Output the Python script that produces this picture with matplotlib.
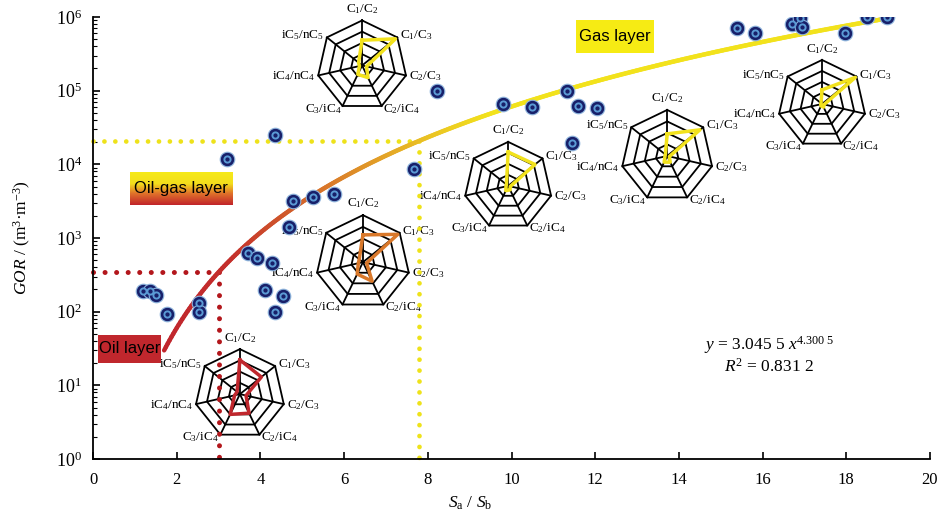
import numpy as np
import matplotlib
matplotlib.use('Agg')
import matplotlib.pyplot as plt
from matplotlib.collections import LineCollection
from matplotlib.colors import LinearSegmentedColormap
from matplotlib.patches import Rectangle
from matplotlib.ticker import LogLocator, NullFormatter

plt.rcParams['font.family'] = ['Liberation Serif', 'DejaVu Serif']
plt.rcParams['mathtext.fontset'] = 'custom'
plt.rcParams['mathtext.rm'] = 'Liberation Serif'
plt.rcParams['mathtext.it'] = 'Liberation Serif:italic'
plt.rcParams['mathtext.bf'] = 'Liberation Serif:bold'

# samples: Sa/Sb ratio and gas-oil ratio
sa_sb = [1.20, 1.36, 1.50, 1.77, 2.54, 2.54, 3.20, 3.71, 3.92, 4.11, 4.28,
         4.35, 4.35, 4.55, 4.69, 4.79, 5.26, 5.77, 7.67, 8.22, 9.80, 10.50,
         11.33, 11.45, 11.60, 12.04, 15.39, 15.82, 16.70, 16.90, 16.94,
         17.97, 18.50, 18.97]
gor = [190, 190, 170, 92, 132, 100, 12000, 630, 540, 195, 460,
       25000, 100, 163, 1400, 3200, 3600, 4000, 8700, 100000, 66000, 60000,
       100000, 19500, 62000, 58000, 710000, 600000, 800000, 970000, 730000,
       600000, 1000000, 1000000]

# power fit y = a x^b
fit_a = 3.0455
fit_b = 4.3005
fit_range = [1.7, 19.0]
oil_limit = 3.0
gas_limit = 7.8

# radar charts (ratio order clockwise from top)
radar_labels = [r'C$_1$/C$_2$', r'C$_1$/C$_3$', r'C$_2$/C$_3$', r'C$_2$/iC$_4$',
                r'C$_3$/iC$_4$', r'iC$_4$/nC$_4$', r'iC$_5$/nC$_5$']
radar_x = [6.43, 6.45, 3.51, 9.92, 13.72, 17.42]
radar_y = [2.2e5, 470, 7.6, 5.1e3, 1.3e4, 6.6e4]
radar_vals = [
    [0.56, 0.95, 0.10, 0.30, 0.22, 0.06, 0.10],
    [0.58, 0.95, 0.08, 0.45, 0.28, 0.10, 0.10],
    [0.76, 0.61, 0.14, 0.47, 0.50, 0.12, 0.08],
    [0.77, 0.78, 0.05, 0.10, 0.12, 0.05, 0.05],
    [0.48, 0.91, 0.05, 0.15, 0.15, 0.05, 0.05],
    [0.32, 0.97, 0.05, 0.08, 0.05, 0.03, 0.03],
]
radar_colors = ['#f2e21c', '#d9782a', '#c0272d', '#f2e21c', '#f2e21c', '#f2e21c']
radar_size = [45, 47, 45, 44, 46, 44]   # radius in pixels
radar_rings = [0.25, 0.5, 0.75, 1.0]

RED = '#c0272d'
YELLOW = '#f2e21c'

fig = plt.figure(figsize=(9.44, 5.21), dpi=100)
fig.patch.set_facecolor('white')
ax = fig.add_axes([93 / 944, 62 / 521, 837 / 944, 442 / 521])
ax.set_zorder(2)
ax.patch.set_visible(False)
ax.set_yscale('log')

# fitted curve, coloured red -> orange -> yellow
curve_cmap = LinearSegmentedColormap.from_list(
    'oilgas', [(0, '#c0262d'), (0.2, '#c42f2b'), (0.5, '#d9782a'),
               (0.78, '#e9bd25'), (1.0, YELLOW)])
xf = np.linspace(fit_range[0], fit_range[1], 400)
yf = fit_a * xf ** fit_b
pts = np.column_stack([xf, yf]).reshape(-1, 1, 2)
segs = np.concatenate([pts[:-1], pts[1:]], axis=1)
lc = LineCollection(segs, cmap=curve_cmap, norm=plt.Normalize(1.7, 9.5),
                    linewidths=3.2, capstyle='round', zorder=3)
lc.set_array(xf[:-1])
ax.add_collection(lc)

# thresholds
dots = (0, (0.01, 2.3))
y_oil = fit_a * oil_limit ** fit_b
y_gas = fit_a * gas_limit ** fit_b
ax.plot([0, oil_limit], [y_oil, y_oil], color='#b3171c', lw=3.6, ls=dots,
        dash_capstyle='round', zorder=2, clip_on=False)
ax.plot([oil_limit, oil_limit], [y_oil, 0.95], color='#b3171c', lw=3.6, ls=dots,
        dash_capstyle='round', zorder=2, clip_on=False)
ax.plot([0, gas_limit], [y_gas, y_gas], color='#eee21a', lw=3.4, ls=dots,
        dash_capstyle='round', zorder=2, clip_on=False)
ax.plot([gas_limit, gas_limit], [y_gas, 0.95], color='#eee21a', lw=3.4, ls=dots,
        dash_capstyle='round', zorder=2, clip_on=False)

# sample points (bullseye style)
ax.scatter(sa_sb, gor, s=110, facecolor='#18206a', edgecolor='#8db4dd',
           linewidth=0.8, zorder=5)
ax.scatter(sa_sb, gor, s=20, facecolor='#18206a', edgecolor='#5b9bd5',
           linewidth=1.4, zorder=6)

# layer boxes
sans = ['Liberation Sans', 'DejaVu Sans']
ax.add_patch(Rectangle((0.577, 0.9186), 0.093, 0.0744, transform=ax.transAxes,
                       facecolor='#f6eb14', edgecolor='none', zorder=3, clip_on=False))
ax.text(0.6237, 0.956, 'Gas layer', transform=ax.transAxes, ha='center',
        va='center', fontsize=12, family=sans, zorder=4)

box_cmap = LinearSegmentedColormap.from_list(
    'box', [(0, '#f6ea1a'), (0.35, '#f3de1c'), (0.65, '#e0722a'), (1.0, '#c1242b')])
grad = np.linspace(0, 1, 100).reshape(-1, 1)
ax.imshow(grad, extent=[0.0442, 0.1661, 0.5747, 0.6493], transform=ax.transAxes,
          cmap=box_cmap, aspect='auto', origin='upper', zorder=3)
ax.text(0.105, 0.613, 'Oil-gas layer', transform=ax.transAxes, ha='center',
        va='center', fontsize=12, family=sans, zorder=4)

ax.add_patch(Rectangle((0.006, 0.2172), 0.0752, 0.0633, transform=ax.transAxes,
                       facecolor=RED, edgecolor='none', zorder=3, clip_on=False))
ax.text(0.0436, 0.249, 'Oil layer', transform=ax.transAxes, ha='center',
        va='center', fontsize=12, family=sans, zorder=4)

# fit equation
ax.text(16.15, 10 ** 1.55, r'$y$ = 3.045 5 $x^{4.300\ 5}$', ha='center',
        va='center', fontsize=12.5)
ax.text(16.15, 10 ** 1.25, r'$R^2$ = 0.831 2', ha='center', va='center',
        fontsize=12.5)

# axes styling
ax.set_xlim(0, 20)
ax.set_ylim(1, 1e6)
ax.set_xticks(np.arange(0, 21, 2))
ax.yaxis.set_major_locator(LogLocator(base=10, numticks=10))
ax.yaxis.set_minor_locator(LogLocator(base=10, subs=np.arange(2, 10), numticks=10))
ax.yaxis.set_minor_formatter(NullFormatter())
ax.tick_params(which='both', direction='in')
ax.tick_params(axis='x', length=5, width=1.2, labelsize=12, pad=9)
ax.tick_params(axis='y', which='major', length=5, width=1.2, labelsize=13, pad=8)
ax.tick_params(axis='y', which='minor', length=3, width=0.8)
for s in ['top', 'right']:
    ax.spines[s].set_visible(False)
for s in ['left', 'bottom']:
    ax.spines[s].set_linewidth(1.3)

ax.set_xlabel(r'$S_\mathrm{a}$ / $S_\mathrm{b}$', fontsize=12.5)
ax.xaxis.set_label_coords(0.45, -0.08)
ax.set_ylabel(r'$GOR$ / (m$^3$·m$^{-3}$)', fontsize=12.5)
ax.yaxis.set_label_coords(-0.072, 0.5)


def draw_radar(cx, cy, vals, color, size_px):
    disp = ax.transData.transform((cx, cy))
    fx, fy = fig.transFigure.inverted().transform(disp)
    w = 2 * size_px / fig.bbox.width
    h = 2 * size_px / fig.bbox.height
    rax = fig.add_axes([fx - w / 2, fy - h / 2, w, h], projection='polar')
    rax.set_zorder(1)
    rax.set_theta_zero_location('N')
    rax.set_theta_direction(-1)
    rax.set_ylim(0, 1)
    rax.axis('off')
    th = np.arange(7) * 2 * np.pi / 7
    thc = np.append(th, th[0])
    for r in radar_rings:
        rax.plot(thc, [r] * 8, color='k', lw=1.3, clip_on=False)
    for t in th:
        rax.plot([t, t], [0, 1], color='k', lw=1.3, clip_on=False)
    v = np.append(vals, vals[0])
    rax.plot(thc, v, color=color, lw=2.5, clip_on=False)
    for i, (t, lab) in enumerate(zip(th, radar_labels)):
        if i == 0:
            rax.text(t, 1.1, lab, ha='center', va='bottom', fontsize=9.5)
        elif i <= 3:
            rax.text(t, 1.07, lab, ha='left', va='center', fontsize=9.5)
        else:
            rax.text(t, 1.07, lab, ha='right', va='center', fontsize=9.5)


for cx, cy, vals, col, sz in zip(radar_x, radar_y, radar_vals, radar_colors, radar_size):
    draw_radar(cx, cy, vals, col, sz)

fig.savefig('out.png', dpi=100)
